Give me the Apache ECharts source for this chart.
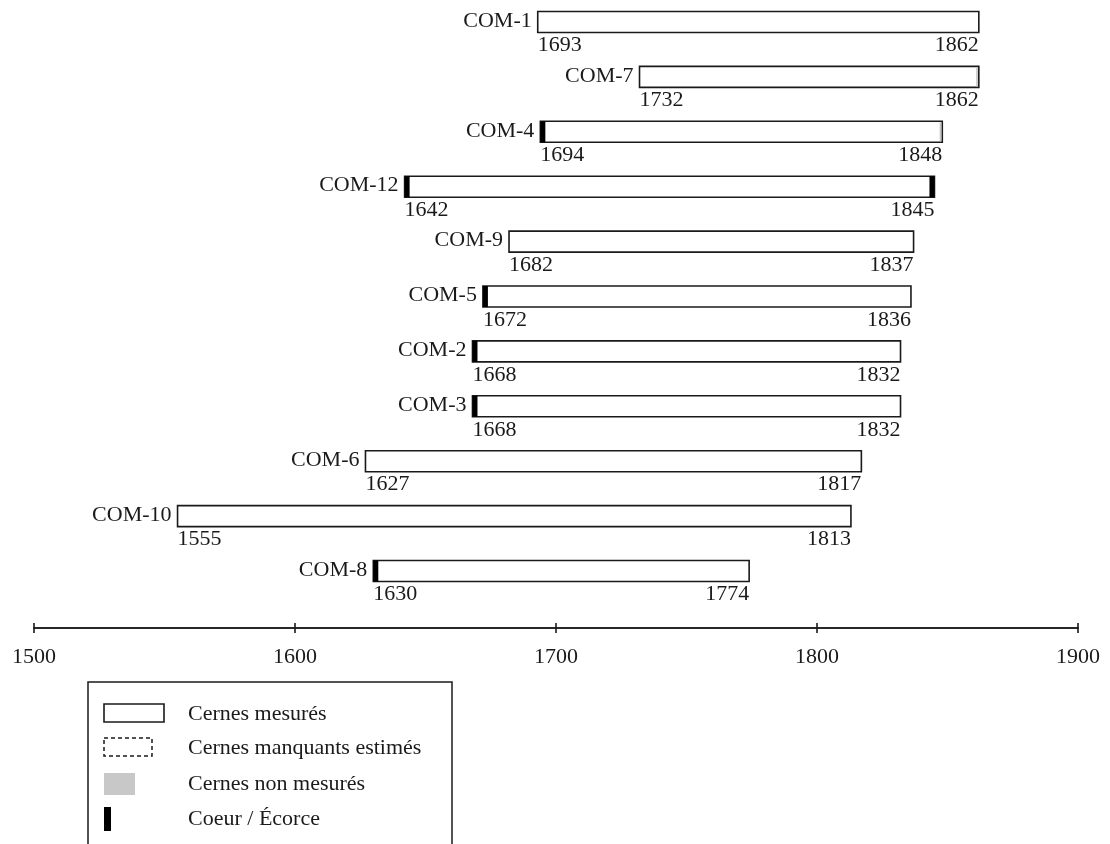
<!DOCTYPE html>
<html>
<head>
<meta charset="utf-8">
<script src="https://cdn.jsdelivr.net/npm/echarts@6/dist/echarts.min.js"></script>
<style>
  html, body { margin: 0; padding: 0; background: #fff; }
  #chart { width: 1110px; height: 844px; }
</style>
</head>
<body>
<div id="chart"></div>
<script>
// ---- Data ----
const samples = ['COM-1', 'COM-7', 'COM-4', 'COM-12', 'COM-9', 'COM-5', 'COM-2', 'COM-3', 'COM-6', 'COM-10', 'COM-8'];
const startYears = [1693, 1732, 1694, 1642, 1682, 1672, 1668, 1668, 1627, 1555, 1630];
const endYears   = [1862, 1862, 1848, 1845, 1837, 1836, 1832, 1832, 1817, 1813, 1774];
const hasPith    = [0, 0, 1, 1, 0, 1, 1, 1, 0, 0, 1];   // black mark at start (coeur)
const hasBark    = [0, 0, 0, 1, 0, 0, 0, 0, 0, 0, 0];   // black mark at end (écorce)
const unmeasuredEnd = [0, 1, 1, 0, 0, 0, 0, 0, 0, 0, 0]; // years of unmeasured rings at the outer end
const axisTicks = [1500, 1600, 1700, 1800, 1900];
const legendLabels = ['Cernes mesurés', 'Cernes manquants estimés', 'Cernes non mesurés', 'Coeur / Écorce'];

const FONT = '"Liberation Serif", "Times New Roman", serif';
const INK = '#1a1a1a';

const chart = echarts.init(document.getElementById('chart'), null, { renderer: 'canvas' });

const seriesData = samples.map((s, i) => [i, startYears[i], endYears[i], hasPith[i], hasBark[i], unmeasuredEnd[i]]);

function renderItem(params, api) {
  const idx = api.value(0);
  const s = api.value(1), e = api.value(2);
  const pith = api.value(3), bark = api.value(4), unm = api.value(5);
  const p0 = api.coord([s, idx]);
  const p1 = api.coord([e, idx]);
  const h = 21;
  const y0 = p0[1] - h / 2;
  const children = [];
  children.push({ type: 'rect', shape: { x: p0[0], y: y0, width: p1[0] - p0[0], height: h },
    style: { fill: '#fff', stroke: INK, lineWidth: 1.6 } });
  if (unm > 0) {
    const pu = api.coord([e - unm, idx]);
    children.push({ type: 'rect', shape: { x: pu[0], y: y0 + 1, width: p1[0] - pu[0] - 1, height: h - 2 },
      style: { fill: '#c4c4c4' } });
  }
  if (pith) {
    children.push({ type: 'rect', shape: { x: p0[0], y: y0, width: 5, height: h }, style: { fill: '#000' } });
  }
  if (bark) {
    children.push({ type: 'rect', shape: { x: p1[0] - 5, y: y0, width: 5, height: h }, style: { fill: '#000' } });
  }
  children.push({ type: 'text', style: { text: samples[idx], x: p0[0] - 6, y: p0[1] - 1, align: 'right', verticalAlign: 'middle',
    fontSize: 22, fontFamily: FONT, fill: INK } });
  children.push({ type: 'text', style: { text: String(s), x: p0[0], y: y0 + h + 2, align: 'left', verticalAlign: 'top',
    fontSize: 22, fontFamily: FONT, fill: INK } });
  children.push({ type: 'text', style: { text: String(e), x: p1[0], y: y0 + h + 2, align: 'right', verticalAlign: 'top',
    fontSize: 22, fontFamily: FONT, fill: INK } });
  return { type: 'group', children };
}

const legendY = [714, 748, 784, 819];
const legendGraphics = [
  { type: 'rect', shape: { x: 88, y: 682, width: 364, height: 220 }, style: { fill: 'none', stroke: INK, lineWidth: 1.5 } },
  { type: 'rect', shape: { x: 104, y: 704, width: 60, height: 18 }, style: { fill: '#fff', stroke: INK, lineWidth: 1.6 } },
  { type: 'rect', shape: { x: 104, y: 738, width: 48, height: 18 }, style: { fill: '#fff', stroke: INK, lineWidth: 1.5, lineDash: [4, 3] } },
  { type: 'rect', shape: { x: 104, y: 773, width: 31, height: 22 }, style: { fill: '#c8c8c8' } },
  { type: 'rect', shape: { x: 104, y: 807, width: 7, height: 24 }, style: { fill: '#000' } }
].concat(legendLabels.map((t, i) => ({
  type: 'text', x: 188, y: legendY[i],
  style: { text: t, fontSize: 22, fontFamily: FONT, fill: INK, verticalAlign: 'middle', align: 'left' }
})));

const axisCommon = {
  type: 'value', min: axisTicks[0], max: axisTicks[axisTicks.length - 1], interval: 100,
  position: 'bottom', offset: 57, splitLine: { show: false },
  axisLine: { show: true, lineStyle: { color: INK, width: 1.6 } }
};

chart.setOption({
  animation: false,
  backgroundColor: '#fff',
  grid: { left: 34, right: 32, top: 22, bottom: 273, containLabel: false },
  xAxis: [
    Object.assign({}, axisCommon, {
      axisTick: { show: true, inside: false, length: 5, lineStyle: { color: INK, width: 1.6 } },
      axisLabel: { show: true, margin: 18, fontSize: 22, fontFamily: FONT, color: INK, showMaxLabel: true, showMinLabel: true,
        formatter: function (v) { return String(v); } }
    }),
    Object.assign({}, axisCommon, {
      axisTick: { show: true, inside: true, length: 5, lineStyle: { color: INK, width: 1.6 } },
      axisLabel: { show: false }
    })
  ],
  yAxis: { type: 'category', inverse: true, boundaryGap: false, data: samples, show: false },
  series: [{
    type: 'custom', xAxisIndex: 0, yAxisIndex: 0, clip: false,
    renderItem: renderItem,
    encode: { x: [1, 2], y: 0 },
    data: seriesData
  }],
  graphic: legendGraphics
});
</script>
</body>
</html>
